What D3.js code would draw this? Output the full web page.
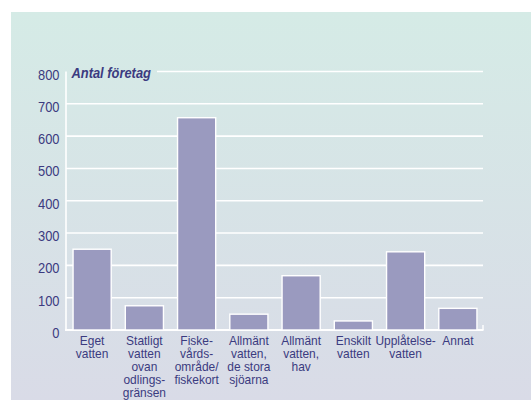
<!DOCTYPE html>
<html><head><meta charset="utf-8">
<script src="https://cdn.jsdelivr.net/npm/d3@7"></script>
<style>html,body{margin:0;padding:0;background:#fff;}svg{display:block;}</style>
</head><body>
<svg id="c" width="531" height="400"></svg>
<script>
const categories = [
  ["Eget","vatten"],
  ["Statligt","vatten","ovan","odlings-","gränsen"],
  ["Fiske-","vårds-","område/","fiskekort"],
  ["Allmänt","vatten,","de stora","sjöarna"],
  ["Allmänt","vatten,","hav"],
  ["Enskilt","vatten"],
  ["Upplåtelse-","vatten"],
  ["Annat"]
];
const values = [250, 75, 657, 49, 168, 28, 242, 67];
const yTicks = [0,100,200,300,400,500,600,700,800];
const yTitle = "Antal företag";

const svg = d3.select("#c");
const defs = svg.append("defs");
const grad = defs.append("linearGradient").attr("id","bg").attr("x1",0).attr("y1",0).attr("x2",0).attr("y2",1);
grad.append("stop").attr("offset","0%").attr("stop-color","#d5ebe6");
grad.append("stop").attr("offset","100%").attr("stop-color","#d9dbe7");
svg.append("rect").attr("x",11).attr("y",12).attr("width",520).attr("height",388).attr("fill","url(#bg)");

const textColor = "#3b3b80";
const x = d3.scaleBand().domain(d3.range(categories.length)).range([66,484]).paddingInner(0.27).paddingOuter(0.135);
const y = d3.scaleLinear().domain([0,800]).range([330,71.5]);

// gridlines
svg.append("g").selectAll("line").data(yTicks.filter(d=>d>0)).join("line")
  .attr("x1", d => d===800 ? 157 : 66).attr("x2",483)
  .attr("y1", d=>y(d)).attr("y2", d=>y(d))
  .attr("stroke","#fff").attr("stroke-width",1.6);

// y axis line
svg.append("line").attr("x1",66).attr("x2",66).attr("y1",y(800)).attr("y2",y(0)+1).attr("stroke","#fff").attr("stroke-width",1.6);
// x axis baseline
svg.append("line").attr("x1",65).attr("x2",483.5).attr("y1",y(0)).attr("y2",y(0)).attr("stroke","#fff").attr("stroke-width",1.8);
svg.append("line").attr("x1",483).attr("x2",483).attr("y1",y(0)-5).attr("y2",y(0)).attr("stroke","#fff").attr("stroke-width",1.4);

// bars
svg.append("g").selectAll("rect").data(values).join("rect")
  .attr("x",(d,i)=>x(i)).attr("width",x.bandwidth())
  .attr("y",d=>y(d)).attr("height",d=>y(0)-y(d))
  .attr("fill","#9a9abf").attr("stroke","#fff").attr("stroke-width",1.4);

// y tick labels
svg.append("g").selectAll("text").data(yTicks).join("text")
  .attr("transform", d=>`translate(59.5,${y(d)+8}) scale(0.86,1)`)
  .attr("text-anchor","end")
  .attr("font-family","Liberation Sans, Arial, sans-serif").attr("font-size",15)
  .attr("fill",textColor).text(d=>d);

// title
svg.append("text").attr("transform","translate(71.5,78.3) scale(0.86,1)")
  .attr("font-family","Liberation Sans, Arial, sans-serif").attr("font-size",15)
  .attr("font-weight","bold").attr("font-style","italic")
  .attr("fill",textColor).text(yTitle);

// category labels
const cg = svg.append("g");
categories.forEach((lines,i)=>{
  const cx = x(i)+x.bandwidth()/2;
  lines.forEach((ln,j)=>{
    cg.append("text").attr("transform",`translate(${cx},${344.5+j*13.1}) scale(0.92,1)`)
      .attr("text-anchor","middle")
      .attr("font-family","Liberation Sans, Arial, sans-serif").attr("font-size",13)
      .attr("fill",textColor).text(ln);
  });
});
</script>
</body></html>
